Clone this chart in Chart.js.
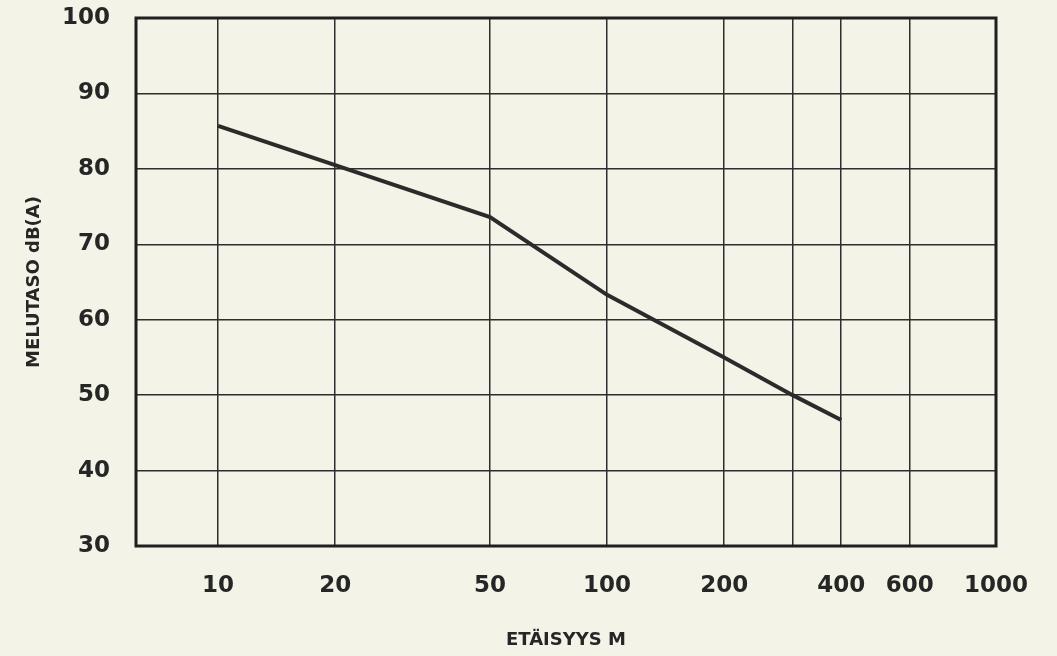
<!DOCTYPE html>
<html>
<head>
<meta charset="utf-8">
<script src="https://cdn.jsdelivr.net/npm/chart.js@4.4.0/dist/chart.umd.min.js"></script>
<style>
  html, body { margin: 0; padding: 0; background: #f3f3e7; }
  #wrap { width: 1057px; height: 656px; }
</style>
</head>
<body>
<div id="wrap"><canvas id="noise_chart"></canvas></div>
<script>
// distance (m) and noise level dB(A)
const distances = [10, 20, 50, 100, 200, 300, 400];
const noiseLevels = [85.7, 80.5, 73.6, 63.3, 55, 50, 46.7];

// grid positions on the log axis and the labels printed under them
const xTickValues = [10, 20, 50, 100, 200, 300, 400, 600, 1000];
const xTickLabels = ['10', '20', '50', '100', '200', '', '400', '600', '1000'];
const yTickValues = [30, 40, 50, 60, 70, 80, 90, 100];

const ink = '#262626';

// thick frame round the plot area
const framePlugin = {
    id: 'frame',
    afterDatasetsDraw(chart) {
        const {ctx, chartArea} = chart;
        ctx.save();
        ctx.strokeStyle = '#1f1f1f';
        ctx.lineWidth = 3;
        ctx.strokeRect(chartArea.left, chartArea.top, chartArea.right - chartArea.left, chartArea.bottom - chartArea.top);
        ctx.restore();
    }
};

new Chart(document.getElementById('noise_chart'), {
    type: 'line',
    data: {
        datasets: [{
            data: distances.map((d, i) => ({x: d, y: noiseLevels[i]})),
            borderColor: '#2b2b2b',
            borderWidth: 4,
            pointRadius: 0,
            tension: 0,
            fill: false
        }]
    },
    options: {
        responsive: true,
        maintainAspectRatio: false,
        animation: false,
        layout: { padding: { top: 18, right: 61, left: 0, bottom: 0 } },
        plugins: { legend: { display: false }, tooltip: { enabled: false } },
        scales: {
            x: {
                type: 'logarithmic',
                min: 6.15,
                max: 1000,
                afterBuildTicks: (scale) => {
                    scale.ticks = xTickValues.map(v => ({value: v}));
                },
                afterFit: (scale) => {
                    scale.height = 110;
                    scale.paddingLeft = 0;
                    scale.paddingRight = 0;
                },
                ticks: {
                    autoSkip: false,
                    maxRotation: 0,
                    padding: 26,
                    color: ink,
                    font: { family: 'DejaVu Sans', weight: 'bold', size: 23 },
                    callback: (value) => {
                        const i = xTickValues.indexOf(value);
                        return i >= 0 ? xTickLabels[i] : '';
                    }
                },
                grid: { color: '#2e2e2e', lineWidth: 1.5, drawTicks: false },
                border: { display: false },
                title: {
                    display: true,
                    text: 'ETÄISYYS M',
                    color: ink,
                    font: { family: 'DejaVu Sans', weight: 'bold', size: 18 },
                    padding: { top: 0, bottom: 5 }
                }
            },
            y: {
                min: 30,
                max: 100,
                afterBuildTicks: (scale) => {
                    scale.ticks = yTickValues.map(v => ({value: v}));
                },
                afterFit: (scale) => {
                    scale.width = 136;
                    scale.paddingTop = 0;
                    scale.paddingBottom = 0;
                },
                ticks: {
                    padding: 26,
                    color: ink,
                    font: { family: 'DejaVu Sans', weight: 'bold', size: 23 }
                },
                grid: { color: '#2e2e2e', lineWidth: 1.5, drawTicks: false },
                border: { display: false },
                title: {
                    display: true,
                    text: 'MELUTASO dB(A)',
                    color: ink,
                    font: { family: 'DejaVu Sans', weight: 'bold', size: 18 },
                    padding: { top: 24, bottom: 0 }
                }
            }
        }
    },
    plugins: [framePlugin]
});
</script>
</body>
</html>
